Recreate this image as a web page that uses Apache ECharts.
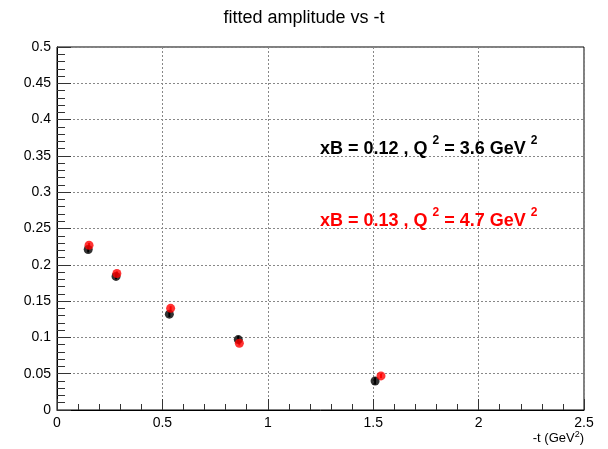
<!DOCTYPE html>
<html>
<head>
<meta charset="utf-8">
<script src="https://cdn.jsdelivr.net/npm/echarts@6/dist/echarts.min.js"></script>
<style>html,body{margin:0;padding:0;background:#fff;}#c{width:608px;height:449px;}</style>
</head>
<body>
<div id="c"></div>
<script>
// Data
const blackT   = [0.148, 0.280, 0.533, 0.860, 1.509];
const blackAmp = [0.221, 0.184, 0.132, 0.097, 0.040];
const blackErr = [0.004, 0.004, 0.004, 0.005, 0.005];
const redT     = [0.152, 0.284, 0.539, 0.865, 1.537];
const redAmp   = [0.227, 0.188, 0.140, 0.092, 0.047];
const redErr   = [0.003, 0.003, 0.003, 0.003, 0.003];
const xTicks = ['0', '0.5', '1', '1.5', '2', '2.5'];
const yTicks = ['0', '0.05', '0.1', '0.15', '0.2', '0.25', '0.3', '0.35', '0.4', '0.45', '0.5'];
const titleText = 'fitted amplitude vs -t';
const blackLabel = ['xB = 0.12 , Q ', '2', ' = 3.6 GeV ', '2'];
const redLabel = ['xB = 0.13 , Q ', '2', ' = 4.7 GeV ', '2'];

const FONT = 'Liberation Sans, Arial, sans-serif';

function pts(xs, ys, es) { return xs.map((x, i) => [x, ys[i], es[i]]); }

function errSeries(data, color) {
  return {
    type: 'custom',
    data: data,
    z: 3,
    renderItem: function (params, api) {
      const x = api.value(0), y = api.value(1), e = api.value(2);
      const p1 = api.coord([x, y - e]);
      const p2 = api.coord([x, y + e]);
      return { type: 'line', shape: { x1: p1[0], y1: p1[1], x2: p2[0], y2: p2[1] },
        style: { stroke: color, lineWidth: 2 } };
    }
  };
}

function richLabel(parts, color) {
  return {
    text: '{n|' + parts[0] + '}{s|' + parts[1] + '}{n|' + parts[2] + '}{s|' + parts[3] + '}',
    rich: {
      n: { fontSize: 18, fontWeight: 'bold', fill: color, fontFamily: FONT, lineHeight: 24 },
      s: { fontSize: 12, fontWeight: 'bold', fill: color, fontFamily: FONT, lineHeight: 24, padding: [0, 0, 16, 0] }
    }
  };
}

const axisCommon = {
  axisLine: { show: true, lineStyle: { color: '#000', width: 1 } },
  axisLabel: { color: '#000', fontSize: 14, fontFamily: FONT, margin: 6 },
  splitLine: { show: true, lineStyle: { color: '#888', type: [2, 2], width: 1 } },
  minorTick: { show: true, splitNumber: 5, lineStyle: { color: '#333' } }
};

const chart = echarts.init(document.getElementById('c'), null, { renderer: 'canvas' });
chart.setOption({
  animation: false,
  backgroundColor: '#fff',
  title: {
    text: titleText, left: 'center', top: 4,
    textStyle: { fontSize: 18, fontWeight: 'normal', color: '#000', fontFamily: FONT }
  },
  grid: { left: 57, right: 24, top: 47, bottom: 39, show: true, borderColor: '#000', borderWidth: 1, backgroundColor: 'transparent' },
  xAxis: Object.assign({}, axisCommon, {
    type: 'value', min: 0, max: 2.5, interval: 0.5,
    axisTick: { show: true, inside: true, length: 11, lineStyle: { color: '#333' } },
    minorTick: { show: true, splitNumber: 5, length: 6, lineStyle: { color: '#333' } },
    axisLabel: Object.assign({}, axisCommon.axisLabel, {
      formatter: function (v) { return xTicks[Math.round(v / 0.5)]; }
    }),
    name: '-t (GeV{s|2})', nameLocation: 'end', nameGap: 0,
    nameTextStyle: {
      color: '#000', fontSize: 13, fontFamily: FONT, align: 'right', verticalAlign: 'top', padding: [20, 0, 0, 0],
      rich: { s: { fontSize: 9, color: '#000', fontFamily: FONT, padding: [0, 0, 7, 0] } }
    }
  }),
  yAxis: Object.assign({}, axisCommon, {
    type: 'value', min: 0, max: 0.5, interval: 0.05,
    axisTick: { show: true, inside: true, length: 14, lineStyle: { color: '#333' } },
    minorTick: { show: true, splitNumber: 5, length: 8, lineStyle: { color: '#333' } },
    axisLabel: Object.assign({}, axisCommon.axisLabel, {
      formatter: function (v) { return yTicks[Math.round(v / 0.05)]; }
    })
  }),
  graphic: [
    { type: 'text', left: 320, top: 135, z: 10, style: richLabel(blackLabel, '#000') },
    { type: 'text', left: 320, top: 207, z: 10, style: richLabel(redLabel, '#ff0000') }
  ],
  series: [
    errSeries(pts(blackT, blackAmp, blackErr), '#000'),
    { type: 'scatter', data: pts(blackT, blackAmp, blackErr), symbol: 'circle', symbolSize: 9,
      itemStyle: { color: '#000' }, z: 4 },
    errSeries(pts(redT, redAmp, redErr), '#ff0000'),
    { type: 'scatter', data: pts(redT, redAmp, redErr), symbol: 'circle', symbolSize: 9,
      itemStyle: { color: '#ff0000' }, z: 5 }
  ]
});
</script>
</body>
</html>
